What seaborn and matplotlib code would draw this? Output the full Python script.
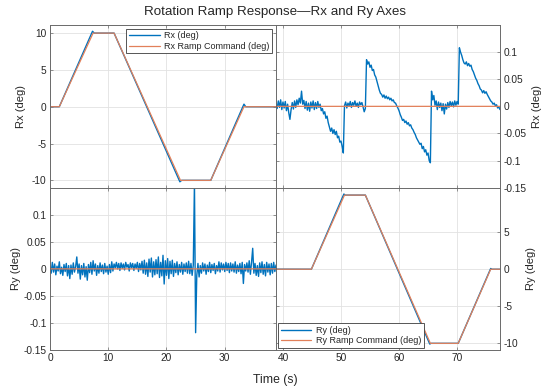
import numpy as np
import pandas as pd
import matplotlib
matplotlib.use("Agg")
import matplotlib.pyplot as plt
import seaborn as sns

# ---------------- data ----------------
# Ramp commands (breakpoints, deg)
rx_cmd_t = [0.0, 1.6, 7.4, 11.0, 22.4, 27.6, 33.3, 77.4]
rx_cmd_v = [0, 0, 10, 10, -10, -10, 0, 0]
ry_cmd_t = [0.0, 44.9, 50.6, 54.2, 65.4, 70.2, 75.8, 77.4]
ry_cmd_v = [0, 0, 10, 10, -10, -10, 0, 0]

# Rx measured during its own ramp (large scale corners incl. overshoot)
rx_big_t = [0.0, 1.6, 7.3, 7.6, 11.0, 22.3, 22.6, 27.6, 33.3, 33.6, 38.6]
rx_big_v = [0.0, 0.0, 10.25, 10.0, 10.0, -10.2, -10.0, -10.0, 0.35, 0.0, 0.0]

# Rx measured during the Ry ramp (fine scale), samples every 0.2 s from 38.8 s
rx_fine_start, fine_step = 38.8, 0.2
rx_fine_v = [
    0.006, -0.004, 0.010, -0.002, 0.012, -0.006, 0.008, -0.003, 0.009, -0.008,
    0.004, -0.012, -0.024, -0.006, 0.007, -0.005, 0.010, -0.002, 0.012, 0.003,
    0.015, 0.006, 0.028, 0.004, 0.011, -0.004, 0.009, -0.007, 0.006, -0.009,
    0.008, -0.003, 0.010, -0.006, 0.007, -0.004, 0.009, -0.002,
    0.004, -0.008, -0.004, -0.014, -0.010, -0.022, -0.018, -0.030, -0.038, -0.046,
    -0.040, -0.050, -0.043, -0.052, -0.046, -0.058, -0.055, -0.066, -0.064, -0.074,
    -0.086,
    0.001, 0.008, -0.003, 0.006, 0.001, 0.009, -0.002, 0.007, 0.002, 0.010,
    0.000, 0.006, -0.002, 0.008, 0.003, 0.007, -0.001, -0.010, -0.004,
    0.086, 0.078, 0.082, 0.072, 0.076, 0.066, 0.068, 0.058, 0.054, 0.046,
    0.038, 0.030, 0.024, 0.022, 0.017, 0.021, 0.015, 0.019, 0.014, 0.017,
    0.012, 0.015, 0.010, 0.012, 0.007, 0.006, 0.001, -0.003, -0.008, -0.015,
    -0.020, -0.026, -0.024, -0.030, -0.027, -0.033, -0.030, -0.036, -0.034, -0.040,
    -0.043, -0.048, -0.052, -0.058, -0.062, -0.066, -0.070, -0.068, -0.078, -0.074,
    -0.084, -0.080, -0.090, -0.086, -0.100, -0.104,
    0.028, 0.012, 0.020, 0.002, 0.010, -0.006, 0.008, -0.002, 0.006, -0.008,
    0.005, -0.014, 0.004, -0.005, 0.007, -0.002, 0.009, 0.001, 0.008, -0.001,
    0.010, 0.002, 0.009, 0.004,
    0.108, 0.100, 0.094, 0.086, 0.080, 0.078, 0.082, 0.075, 0.079, 0.074,
    0.076, 0.068, 0.064, 0.058, 0.052, 0.048, 0.042, 0.038, 0.032, 0.030,
    0.025, 0.029, 0.024, 0.027, 0.022, 0.018, 0.014, 0.010, 0.008, 0.004,
    0.006, 0.001, 0.003, -0.003, -0.001, -0.006,
]

# Ry measured during the Rx ramp (fine scale), samples every 0.2 s from 0 s
ry_fine_start = 0.0
ry_fine_v = [
    0.004, -0.008, 0.012, -0.006, 0.009, -0.011, 0.005, -0.004, 0.013, -0.009,
    0.003, -0.012, 0.008, -0.005, 0.010, -0.013, 0.006, -0.018, 0.007, -0.010,
    0.011, -0.006, 0.004, 0.022, -0.008,
    0.009, -0.019, 0.006, -0.011, 0.010, -0.015, 0.004, -0.021, 0.008, -0.007,
    0.012, -0.010, 0.015, -0.004, 0.009, -0.012, 0.006, -0.008, 0.011, -0.005,
    0.007, -0.009, 0.010, -0.006, 0.005,
    -0.010, 0.008, -0.007, 0.013, -0.004, 0.009, 0.002, 0.012, 0.000, 0.010,
    -0.003, 0.011, 0.001, 0.009, -0.002, 0.012, 0.003, 0.008, -0.004, 0.011,
    0.002, 0.010, -0.003, 0.009, 0.001,
    0.012, -0.005, 0.010, -0.002, 0.014, -0.008, 0.016, -0.010, 0.011, -0.014,
    0.018, -0.006, 0.020, -0.015, 0.013, -0.011, 0.017, -0.009, 0.022, -0.016,
    0.012, -0.013, 0.025, -0.028, 0.015,
    -0.012, 0.019, -0.018, 0.014, -0.009, 0.016, -0.014, 0.010, -0.007, 0.013,
    -0.011, 0.008, -0.006, 0.012, -0.010, 0.009, -0.005, 0.011, -0.008, 0.014,
    -0.009, 0.010, -0.012, 0.007, 0.160,
    -0.118, -0.012, 0.010, -0.015, 0.006, -0.008, 0.011, -0.004, 0.009, -0.010,
    0.007, -0.005, 0.012, -0.007, 0.008, -0.003, 0.010, -0.009, 0.006, -0.004,
    0.013, -0.006, 0.011, -0.002, 0.009,
    -0.005, 0.012, -0.003, 0.010, -0.007, 0.011, -0.004, 0.009, -0.006, 0.013,
    -0.008, 0.007, -0.005, 0.010, -0.009, 0.012, -0.027, 0.008, -0.004, 0.011,
    -0.006, 0.015, -0.010, 0.012, 0.038,
    -0.008, 0.010, -0.012, 0.006, -0.014, 0.011, -0.007, 0.013, -0.010, 0.008,
    -0.013, 0.012, -0.006, 0.009, -0.011, 0.010, -0.008, 0.012, -0.005, 0.007,
]

# Ry measured during its own ramp (large scale corners)
ry_big_t = [44.9, 50.5, 50.7, 54.2, 65.3, 65.5, 70.2, 75.8, 76.0, 77.4]
ry_big_v = [0.0, 10.15, 10.0, 10.0, -10.1, -10.0, -10.0, 0.1, 0.0, 0.0]

# ---------------- assemble series ----------------
rx_fine_t = np.round(rx_fine_start + fine_step * np.arange(len(rx_fine_v)), 2)
ry_fine_t = np.round(ry_fine_start + fine_step * np.arange(len(ry_fine_v)), 2)

rx_df = pd.DataFrame({"t": np.concatenate([rx_big_t, rx_fine_t]),
                      "v": np.concatenate([rx_big_v, rx_fine_v])})
ry_df = pd.DataFrame({"t": np.concatenate([ry_fine_t, ry_big_t]),
                      "v": np.concatenate([ry_fine_v, ry_big_v])})
rxc_df = pd.DataFrame({"t": rx_cmd_t, "v": rx_cmd_v})
ryc_df = pd.DataFrame({"t": ry_cmd_t, "v": ry_cmd_v})

# ---------------- style ----------------
sns.set_theme(style="white")
plt.rcParams["font.family"] = ["Liberation Sans", "DejaVu Sans"]
plt.rcParams["axes.unicode_minus"] = False

BLUE = "#0072BD"
ORANGE = "#E2805A"
TXT = "#262626"
SPINE = "#6a6a6a"

fig = plt.figure(figsize=(5.5, 3.91), dpi=100)
L, M, R = 50 / 550, 276 / 550, 500 / 550
T, MID, B = 1 - 25 / 391, 1 - 187.7 / 391, 1 - 350 / 391
axTL = fig.add_axes([L, MID, M - L, T - MID])
axTR = fig.add_axes([M, MID, R - M, T - MID])
axBL = fig.add_axes([L, B, M - L, MID - B])
axBR = fig.add_axes([M, B, R - M, MID - B])

for ax, df, cdf, lab, clab in [
    (axTL, rx_df, rxc_df, "Rx (deg)", "Rx Ramp Command (deg)"),
    (axTR, rx_df, rxc_df, None, None),
    (axBL, ry_df, ryc_df, None, None),
    (axBR, ry_df, ryc_df, "Ry (deg)", "Ry Ramp Command (deg)"),
]:
    sns.lineplot(data=df, x="t", y="v", ax=ax, color=BLUE, lw=1.0,
                 estimator=None, sort=False, label=lab, legend=False)
    sns.lineplot(data=cdf, x="t", y="v", ax=ax, color=ORANGE, lw=0.9,
                 estimator=None, sort=False, label=clab, legend=False)

left_xt = [0, 10, 20, 30]
right_xt = [40, 50, 60, 70]
small_t = [-0.15, -0.1, -0.05, 0, 0.05, 0.1]
small_l = ["-0.15", "-0.1", "-0.05", "0", "0.05", "0.1"]

for ax in (axTL, axBL):
    ax.set_xlim(0, 38.8)
    ax.set_xticks(left_xt)
for ax in (axTR, axBR):
    ax.set_xlim(38.8, 77.4)
    ax.set_xticks(right_xt)

axTL.set_ylim(-11, 11.1)
axTL.set_yticks([-10, -5, 0, 5, 10])
axTL.set_yticklabels(["-10", "-5", "0", "5", "10"])
axBR.set_ylim(-10.9, 11.0)
axBR.set_yticks([-10, -5, 0, 5])
axBR.set_yticklabels(["-10", "-5", "0", "5"])
for ax in (axTR, axBL):
    ax.set_ylim(-0.15, 0.15)
    ax.set_yticks(small_t)
    ax.set_yticklabels(small_l)

for ax in (axTR, axBR):
    ax.yaxis.tick_right()
    ax.yaxis.set_label_position("right")

for ax in (axTL, axTR):
    ax.set_xticklabels([])
axBL.set_xticklabels([str(v) for v in left_xt])
axBR.set_xticklabels([str(v) for v in right_xt])

for ax in (axTL, axTR, axBL, axBR):
    ax.set_xlabel("")
    ax.grid(True, color="#e2e2e2", lw=0.6)
    ax.set_axisbelow(True)
    ax.tick_params(direction="in", length=2.5, width=0.5, colors=SPINE,
                   labelcolor=TXT, labelsize=7.3, pad=2.5,
                   top=True, bottom=True, left=True, right=True)
    for sp in ax.spines.values():
        sp.set_color(SPINE)
        sp.set_linewidth(0.7)

axTL.set_ylabel("Rx (deg)", fontsize=8, color=TXT, labelpad=4)
axBL.set_ylabel("Ry (deg)", fontsize=8, color=TXT, labelpad=2)
axTR.set_ylabel("Rx (deg)", fontsize=8, color=TXT, labelpad=4, rotation=90)
axBR.set_ylabel("Ry (deg)", fontsize=8, color=TXT, labelpad=6, rotation=90)

legkw = dict(fontsize=6.5, frameon=True, fancybox=False, edgecolor="#3a3a3a",
             framealpha=1, handlelength=3.4, handletextpad=0.5,
             borderpad=0.3, labelspacing=0.15)
lg1 = axTL.legend(loc="upper right", borderaxespad=0.4, **legkw)
lg2 = axBR.legend(loc="lower left", borderaxespad=0.2, **legkw)
for lg in (lg1, lg2):
    lg.get_frame().set_linewidth(0.6)

fig.text(0.5, 1 - 12.5 / 391, "Rotation Ramp Response\u2014Rx and Ry Axes",
         ha="center", va="center", fontsize=9.6, color=TXT)
fig.text(0.5, 1 - 380 / 391, "Time (s)", ha="center", va="center",
         fontsize=8.8, color=TXT)

fig.savefig("out.png", dpi=100)
